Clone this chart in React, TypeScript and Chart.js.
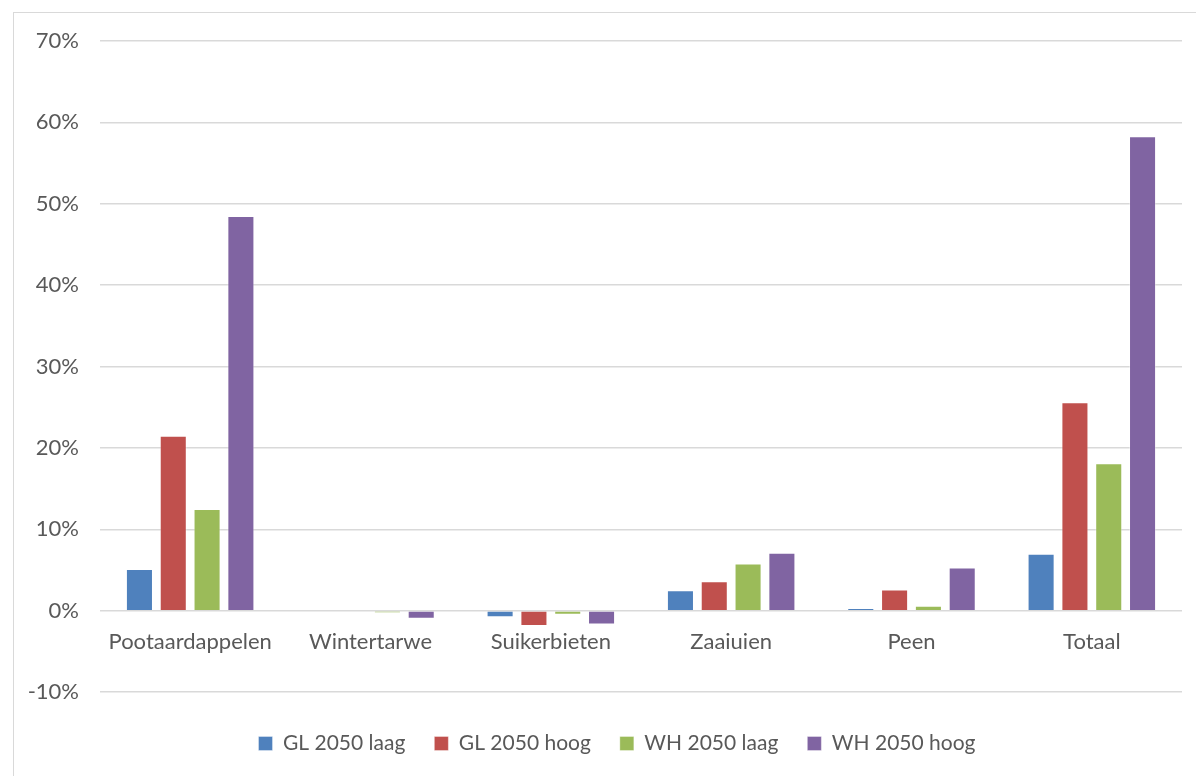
import React, { useEffect, useRef } from "react";
import { Chart, registerables } from "chart.js";

Chart.register(...registerables);

const categories = ["Pootaardappelen", "Wintertarwe", "Suikerbieten", "Zaaiuien", "Peen", "Totaal"];
const seriesNames = ["GL 2050 laag", "GL 2050 hoog", "WH 2050 laag", "WH 2050 hoog"];
const glLaag = [5.1, 0.0, -0.8, 2.5, 0.3, 7.0];
const glHoog = [21.5, -0.1, -1.9, 3.6, 2.6, 25.6];
const whLaag = [12.5, -0.3, -0.5, 5.8, 0.6, 18.1];
const whHoog = [48.5, -1.0, -1.7, 7.1, 5.3, 58.3];
const seriesColors = ["#4F81BD", "#C0504D", "#9BBB59", "#8064A2"];
const yMin = -10;
const yMax = 70;
const yStep = 10;

const TEXT = "#595959";
const FONT = "Lato, 'Open Sans', sans-serif";
const CANVAS_W = 1221;
const CANVAS_H = 776;

export default function App() {
  const canvasRef = useRef<HTMLCanvasElement | null>(null);

  useEffect(() => {
    const canvas = canvasRef.current;
    if (!canvas) return;
    const values = [glLaag, glHoog, whLaag, whHoog];
    const chart = new Chart(canvas, {
      type: "bar",
      data: {
        labels: categories,
        datasets: values.map((v, i) => ({
          label: seriesNames[i],
          data: v,
          backgroundColor: seriesColors[i],
          borderColor: "rgba(255,255,255,0.35)",
          borderWidth: 1,
          categoryPercentage: 0.75,
          barPercentage: 0.8,
        })),
      },
      options: {
        animation: false,
        responsive: false,
        maintainAspectRatio: false,
        layout: { padding: { left: 13, right: 0, top: 41, bottom: 12 } },
        plugins: {
          tooltip: { enabled: false },
          legend: {
            position: "bottom",
            title: { display: true, text: "", padding: 0, font: { size: 12, lineHeight: 1 } },
            labels: {
              color: TEXT,
              font: { family: FONT, size: 21 },
              boxWidth: 14,
              boxHeight: 14,
              padding: 29,
            },
          },
        },
        scales: {
          x: {
            position: { y: 0 },
            grid: { display: false },
            border: { display: false },
            ticks: {
              color: TEXT,
              font: { family: FONT, size: 22 },
              padding: 10,
              maxRotation: 0,
              autoSkip: false,
            },
          },
          y: {
            min: yMin,
            max: yMax,
            grid: { color: "#d9d9d9", lineWidth: 1.5, drawTicks: false },
            border: { display: false },
            ticks: {
              stepSize: yStep,
              color: TEXT,
              font: { family: FONT, size: 22 },
              padding: 21,
              callback: (v: any) => `${v}%`,
            },
            afterFit: (scale: any) => {
              scale.width = 87;
            },
          },
          // empty spacer on the right so the legend sits centred in the chart frame
          yRight: {
            type: "linear",
            position: "right",
            display: true,
            grid: { display: false },
            border: { display: false },
            ticks: { display: false },
            afterFit: (scale: any) => {
              scale.width = CANVAS_W - 1182;
            },
          },
        },
      },
    });
    return () => chart.destroy();
  }, []);

  return (
    <div style={{ position: "fixed", left: 0, top: 0, width: 1196, height: 776, background: "#fff", overflow: "hidden" }}>
      <div
        style={{
          position: "absolute",
          left: 13,
          top: 12,
          width: 1220,
          height: 800,
          border: "1px solid #d9d9d9",
          boxSizing: "border-box",
        }}
      />
      <canvas ref={canvasRef} width={CANVAS_W} height={CANVAS_H} style={{ position: "absolute", left: 0, top: 0 }} />
    </div>
  );
}
